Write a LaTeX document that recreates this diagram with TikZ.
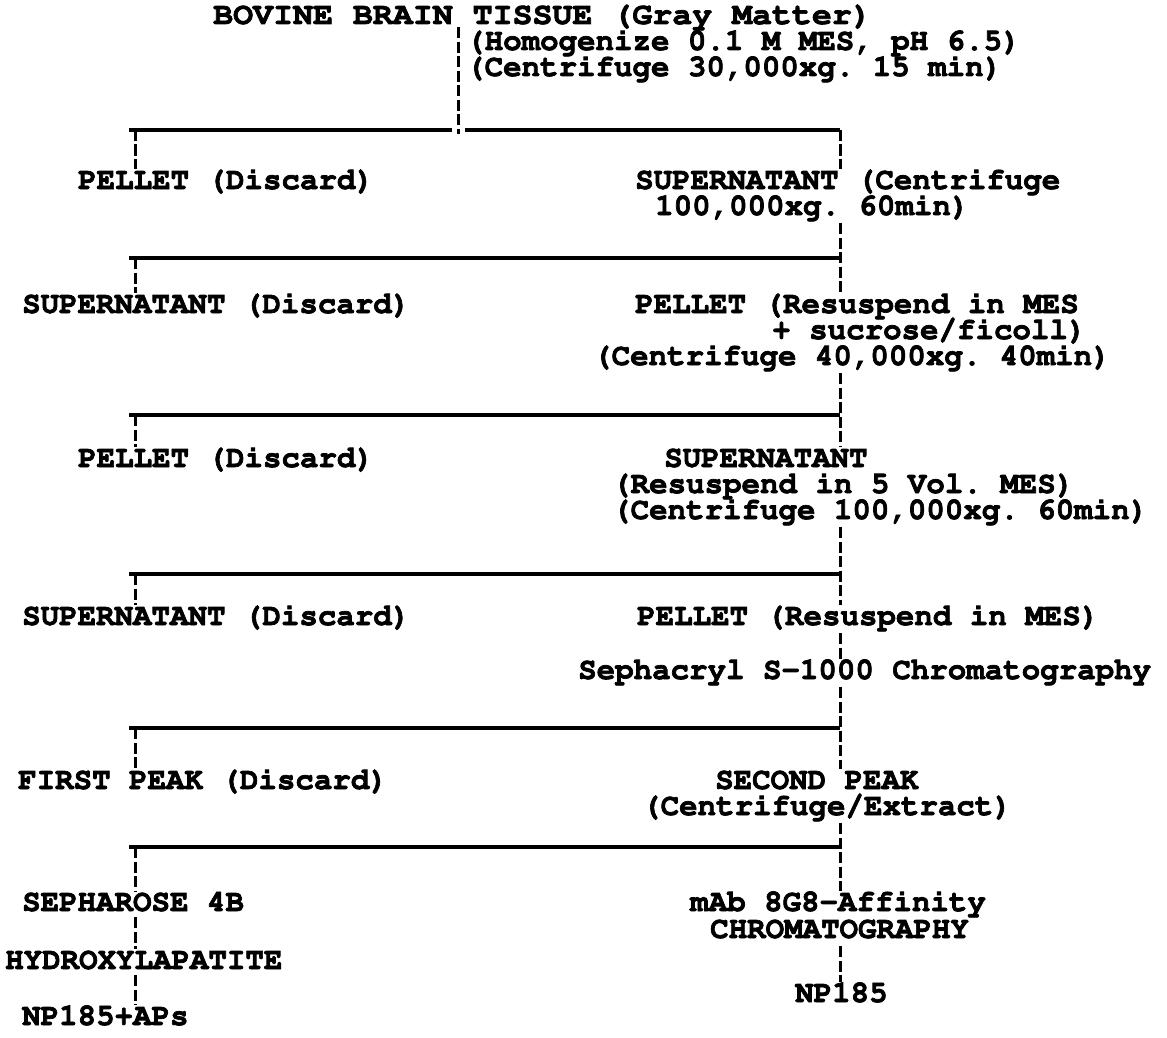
\documentclass[tikz,border=0pt]{standalone}
\usepackage[T1]{fontenc}
\usetikzlibrary{positioning}

\newcommand{\flowfont}{\fontfamily{pcr}\fontseries{b}\fontsize{30.8}{26}\selectfont\frenchspacing}

\tikzset{
  stage/.style={anchor=west, inner sep=0pt, font=\flowfont,
    text height=18pt, text depth=0pt,
    execute at begin node={\special{pdf:literal direct 2 Tr 0.7 w}},
    execute at end node={\special{pdf:literal direct 0 Tr}}},
  split/.style={line width=3.4pt},
  link/.style={line width=3pt, dash pattern=on 11pt off 3.5pt},
}

\begin{document}
\begin{tikzpicture}[x=1pt, y=-1pt]
  \useasboundingbox (0,0) rectangle (1167,1038);

  % starting material
  \node[stage] (tissue) at (213,15) {\scalebox{1.08}[1]{BOVINE BRAIN TISSUE (Gray Matter)}};
  \node[stage] (homog) at (466,41) {(Homogenize 0.1 M MES, pH 6.5)};
  \node[stage] (spin1) at (466,67) {(Centrifuge 30,000xg. 15 min)};

  % branch points
  \coordinate (c0) at (458,130);
  \coordinate (a1) at (135,130);  \coordinate (b1) at (840,130);
  \coordinate (a2) at (135,258);  \coordinate (b2) at (840,258);
  \coordinate (a3) at (135,415);  \coordinate (b3) at (840,415);
  \coordinate (a4) at (135,574);  \coordinate (b4) at (840,574);
  \coordinate (a5) at (135,728);  \coordinate (b5) at (840,728);
  \coordinate (a6) at (135,847);  \coordinate (b6) at (840,847);

  % first spin
  \node[stage] (pellet1) at (78,180) {PELLET (Discard)};
  \node[stage] (super1) at (635,180) {SUPERNATANT (Centrifuge};
  \node[stage] (super1b) at (655,206) {100,000xg. 60min)};

  % second spin
  \node[stage] (super2) at (22,304) {SUPERNATANT (Discard)};
  \node[stage] (pellet2) at (635,304) {PELLET (Resuspend in MES};
  \node[stage] (pellet2b) at (772,330) {+ sucrose/ficoll)};
  \node[stage] (spin3) at (593,356) {(Centrifuge 40,000xg. 40min)};

  % third spin
  \node[stage] (pellet3) at (78,458) {PELLET (Discard)};
  \node[stage] (super3) at (664,458) {SUPERNATANT};
  \node[stage] (resus3) at (612,484) {(Resuspend in 5 Vol. MES)};
  \node[stage] (spin4) at (612,510) {(Centrifuge 100,000xg. 60min)};

  % fourth spin
  \node[stage] (super4) at (22,616) {SUPERNATANT (Discard)};
  \node[stage] (pellet4) at (637,616) {PELLET (Resuspend in MES)};
  \node[stage] (sephacryl) at (578,670) {Sephacryl S-1000 Chromatography};

  % column peaks
  \node[stage] (peak1) at (18,780) {FIRST PEAK (Discard)};
  \node[stage] (peak2) at (715,780) {SECOND PEAK};
  \node[stage] (extract) at (642,806) {(Centrifuge/Extract)};

  % final purification
  \node[stage] (sepharose) at (22,902) {SEPHAROSE 4B};
  \node[stage] (hydroxy) at (5,960) {HYDROXYLAPATITE};
  \node[stage] (npaps) at (22,1016) {NP185+APs};
  \node[stage] (affinity) at (690,902) {mAb 8G8-Affinity};
  \node[stage] (chrom) at (710,929) {CHROMATOGRAPHY};
  \node[stage] (np) at (795,993) {NP185};

  % horizontal splits
  \draw[split] ([xshift=-6pt]a1) -- ([xshift=-6pt]c0);
  \draw[split] ([xshift=7pt]c0) -- (b1);
  \foreach \k in {2,...,6}
    \draw[split] ([xshift=-6pt]a\k) -- (b\k);

  % main line
  \draw[link] ([yshift=-3pt]tissue.south -| c0) -- ([yshift=-4pt]c0);
  \draw[link] (b1) -- ([yshift=2pt]b1 |- super1.north);
  \draw[link] ([yshift=-8pt]super1b.south -| b2) -- ([yshift=2pt]b2 |- pellet2.north);
  \draw[link] ([yshift=-8pt]spin3.south -| b3) -- ([yshift=2pt]b3 |- super3.north);
  \draw[link] ([yshift=-8pt]spin4.south -| b4) -- ([yshift=2pt]b4 |- pellet4.north);
  \draw[link] ([yshift=-8pt]pellet4.south -| b4) -- ([yshift=2pt]b4 |- sephacryl.north);
  \draw[link] ([yshift=-8pt]sephacryl.south -| b5) -- ([yshift=2pt]b5 |- peak2.north);
  \draw[link] ([yshift=-8pt]extract.south -| b6) -- ([yshift=2pt]b6 |- affinity.north);
  \draw[link] ([yshift=-8pt]chrom.south -| b6) -- ([yshift=2pt]b6 |- np.north);

  % side branches
  \draw[link] (a1) -- ([yshift=2pt]a1 |- pellet1.north);
  \draw[link] (a2) -- ([yshift=2pt]a2 |- super2.north);
  \draw[link] (a3) -- ([yshift=2pt]a3 |- pellet3.north);
  \draw[link] (a4) -- ([yshift=2pt]a4 |- super4.north);
  \draw[link] (a5) -- ([yshift=2pt]a5 |- peak1.north);
  \draw[link] (a6) -- ([yshift=2pt]a6 |- sepharose.north);
  \draw[link] ([yshift=-6pt]sepharose.south -| a6) -- ([yshift=2pt]a6 |- hydroxy.north);
  \draw[link] ([yshift=-6pt]hydroxy.south -| a6) -- ([yshift=2pt]a6 |- npaps.north);
\end{tikzpicture}
\end{document}
